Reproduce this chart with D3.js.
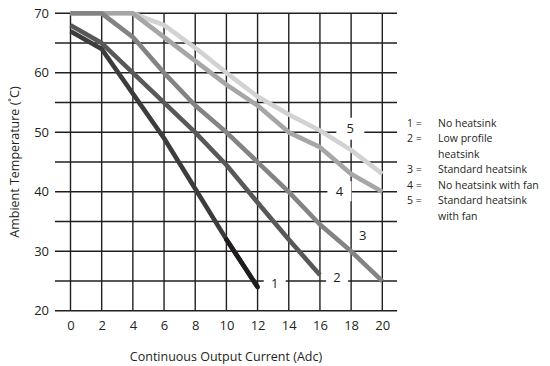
<!DOCTYPE html>
<html>
<head>
<meta charset="utf-8">
<script src="https://cdn.jsdelivr.net/npm/d3@7"></script>
<style>
  html, body { margin: 0; padding: 0; background: #fff; }
  svg { display: block; font-family: "Open Sans", "Noto Sans", sans-serif; }
</style>
</head>
<body>
<svg id="chart" width="550" height="366"></svg>
<script>
// ---- data ----
const currents = [0, 2, 4, 6, 8, 10, 12, 14, 16, 18, 20];
const series1 = [67, 64, 56.5, 49, 40.5, 32, 24, null, null, null, null];
const series2 = [68, 65, 60, 55, 50, 44.5, 38.2, 32, 26, null, null];
const series3 = [70, 70, 66, 60, 54.5, 50, 45, 40, 34.5, 30, 25];
const series4 = [70, 70, 70, 66, 62, 58, 54.5, 50, 47.5, 43, 40];
const series5 = [70, 70, 70, 68, 64.2, 60, 56, 53, 50.3, 47, 43];
const seriesNames = ["1", "2", "3", "4", "5"];
const xTicks = [0, 2, 4, 6, 8, 10, 12, 14, 16, 18, 20];
const yTicks = [20, 30, 40, 50, 60, 70];
const yGrid = [20, 25, 30, 35, 40, 45, 50, 55, 60, 65, 70];
const legendKeys = ["1 =", "2 =", "", "3 =", "4 =", "5 =", ""];
const legendTexts = ["No heatsink", "Low profile", "heatsink", "Standard heatsink", "No heatsink with fan", "Standard heatsink", "with fan"];
const xTitle = "Continuous Output Current (Adc)";
const yTitle = "Ambient Temperature (˚C)";

// ---- layout / style ----
const svg = d3.select("#chart");
const x = d3.scaleLinear().domain([0, 20]).range([70.5, 382.3]);
const y = d3.scaleLinear().domain([20, 70]).range([310.8, 13.3]);
const gridLeft = 55, gridRight = 397;
const ink = "#231f20";
const colors = ["#3c3c3c", "#585858", "#838383", "#a6a6a6", "#d2d2d2"];
const allSeries = [series1, series2, series3, series4, series5];

// grid
svg.append("g").selectAll("line").data(yGrid).join("line")
  .attr("x1", gridLeft).attr("x2", gridRight)
  .attr("y1", d => y(d)).attr("y2", d => y(d))
  .attr("stroke", ink).attr("stroke-width", 1.4);
svg.append("g").selectAll("line").data(xTicks).join("line")
  .attr("x1", d => x(d)).attr("x2", d => x(d))
  .attr("y1", y(70)).attr("y2", y(20))
  .attr("stroke", ink).attr("stroke-width", 1.4);

// tick labels via axes (no domain / tick lines)
const xAxis = svg.append("g").attr("transform", `translate(0,${y(20)})`)
  .call(d3.axisBottom(x).tickValues(xTicks).tickSize(0).tickPadding(10).tickFormat(d3.format("d")));
const yAxis = svg.append("g").attr("transform", `translate(${gridLeft},0)`)
  .call(d3.axisLeft(y).tickValues(yTicks).tickSize(0).tickPadding(6).tickFormat(d3.format("d")));
[xAxis, yAxis].forEach(a => {
  a.select(".domain").remove();
  a.selectAll("text").attr("font-size", 13).attr("fill", ink)
    .attr("font-family", "'Open Sans', 'Noto Sans', sans-serif");
});

// curve labels (white boxes breaking the grid)
const curveLabels = [
  { name: "1", cx: 13.1, cy: 24.6, w: 22, h: 18 },
  { name: "2", cx: 17.1, cy: 25.6, w: 22, h: 18 },
  { name: "3", cx: 18.75, cy: 32.7, w: 20, h: 22 },
  { name: "4", cx: 17.25, cy: 40.1, w: 24, h: 20 },
  { name: "5", cx: 17.95, cy: 50.6, w: 28, h: 22 }
];
const lab = svg.append("g").selectAll("g").data(curveLabels).join("g")
  .attr("transform", d => `translate(${x(d.cx)},${y(d.cy)})`);
lab.append("rect").attr("x", d => -d.w / 2).attr("y", d => -d.h / 2)
  .attr("width", d => d.w).attr("height", d => d.h).attr("fill", "#fff");
lab.append("text").text(d => d.name).attr("text-anchor", "middle").attr("dy", "0.36em")
  .attr("font-size", 13).attr("fill", ink);

// series lines (5 drawn first, 1 on top)
const line = d3.line().defined(d => d[1] != null).x(d => x(d[0])).y(d => y(d[1]));
for (let i = allSeries.length - 1; i >= 0; i--) {
  const pts = currents.map((c, j) => [c, allSeries[i][j]]);
  svg.append("path").datum(pts).attr("d", line)
    .attr("fill", "none").attr("stroke", colors[i]).attr("stroke-width", 4.6)
    .attr("stroke-linejoin", "round").attr("stroke-linecap", "butt");
}
// darker final segment of curve 1
const s1tail = currents.map((c, j) => [c, series1[j]]).filter(d => d[0] >= 10 && d[1] != null);
svg.append("path").datum(s1tail).attr("d", line)
  .attr("fill", "none").attr("stroke", "#1e1c1c").attr("stroke-width", 4.6)
  .attr("stroke-linecap", "round");

// legend
const lg = svg.append("g").attr("font-size", 10.5).attr("fill", ink);
legendKeys.forEach((k, i) => {
  const yy = 123 + i * 15.5;
  lg.append("text").attr("x", 407).attr("y", yy).attr("dy", "0.35em").text(k);
  lg.append("text").attr("x", 438).attr("y", yy).attr("dy", "0.35em").text(legendTexts[i]);
});

// axis titles
svg.append("text").attr("x", 226).attr("y", 357).attr("dy", "0.35em")
  .attr("text-anchor", "middle").attr("font-size", 12.5).attr("fill", ink).text(xTitle);
svg.append("text").attr("transform", `translate(15,${y(45)}) rotate(-90)`).attr("dy", "0.35em")
  .attr("text-anchor", "middle").attr("font-size", 12.5).attr("fill", ink).text(yTitle);
</script>
</body>
</html>
